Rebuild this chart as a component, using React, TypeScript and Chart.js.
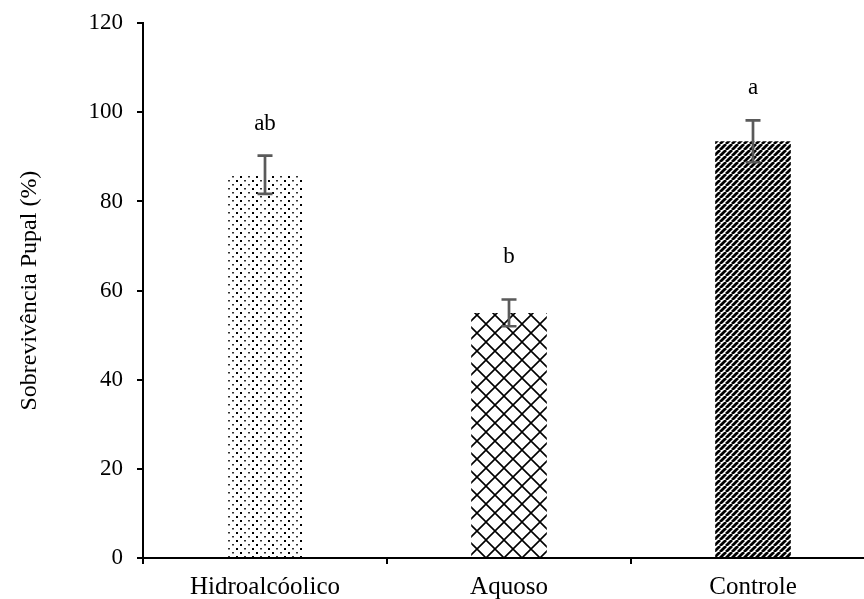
import React, { useEffect, useRef } from "react";
import { Chart, registerables } from "chart.js";

Chart.register(...registerables);

const categories = ["Hidroalcóolico", "Aquoso", "Controle"];
const survival = [86, 55, 93.5];
const errors = [4.3, 3, 4.7];
const letters = ["ab", "b", "a"];
const letterValues = [97.5, 67.5, 105.5];
const yTicks = [0, 20, 40, 60, 80, 100, 120];

const FONT = "'Liberation Serif', 'Times New Roman', serif";

function makeTile(size: number, draw: (c: CanvasRenderingContext2D) => void): CanvasPattern | string {
  const cv = document.createElement("canvas");
  cv.width = size;
  cv.height = size;
  const c = cv.getContext("2d");
  if (!c) return "#000";
  c.fillStyle = "#fff";
  c.fillRect(0, 0, size, size);
  draw(c);
  const p = c.createPattern(cv, "repeat");
  return p || "#000";
}

function dotted() {
  return makeTile(16, (c) => {
    for (let row = 0; row < 4; row++) {
      const y = row * 4;
      const off = row % 2 === 0 ? 0 : 4;
      for (let k = 0; k < 2; k++) {
        const x = off + k * 8;
        const big = (row + k) % 2 === 0;
        c.fillStyle = big ? "#000" : "#333";
        c.fillRect(x, y, 2, big ? 2 : 1.5);
      }
    }
  });
}

function diamonds() {
  return makeTile(18, (c) => {
    c.strokeStyle = "#000";
    c.lineWidth = 1.6;
    c.beginPath();
    for (let d = -18; d <= 18; d += 18) {
      c.moveTo(d, 0);
      c.lineTo(d + 18, 18);
      c.moveTo(d + 18, 0);
      c.lineTo(d, 18);
    }
    c.stroke();
  });
}

function stripes() {
  return makeTile(6, (c) => {
    c.strokeStyle = "#000";
    c.lineWidth = 2.8;
    c.beginPath();
    for (let d = -6; d <= 12; d += 6) {
      c.moveTo(d, 6);
      c.lineTo(d + 6, 0);
    }
    c.stroke();
  });
}

const annotate = {
  id: "annotate",
  afterDatasetsDraw(chart: any) {
    const ctx = chart.ctx;
    const x = chart.scales.x;
    const y = chart.scales.y;
    ctx.save();
    for (let i = 0; i < categories.length; i++) {
      const cx = x.getPixelForValue(i);
      const top = y.getPixelForValue(survival[i] + errors[i]);
      const bot = y.getPixelForValue(survival[i] - errors[i]);
      ctx.strokeStyle = "#5a5a5a";
      ctx.lineWidth = 2.7;
      ctx.beginPath();
      ctx.moveTo(cx, top);
      ctx.lineTo(cx, bot);
      ctx.moveTo(cx - 7.5, top);
      ctx.lineTo(cx + 7.5, top);
      ctx.moveTo(cx - 7.5, bot);
      ctx.lineTo(cx + 7.5, bot);
      ctx.stroke();
      ctx.fillStyle = "#000";
      ctx.font = `23px ${FONT}`;
      ctx.textAlign = "center";
      ctx.textBaseline = "middle";
      ctx.fillText(letters[i], cx, y.getPixelForValue(letterValues[i]));
    }
    ctx.restore();
  },
};

export default function App() {
  const ref = useRef<HTMLCanvasElement | null>(null);
  useEffect(() => {
    if (!ref.current) return;
    const chart = new Chart(ref.current, {
      type: "bar",
      data: {
        labels: categories,
        datasets: [
          {
            data: survival,
            backgroundColor: [dotted(), diamonds(), stripes()] as any,
            borderWidth: 0,
            barPercentage: 0.31,
            categoryPercentage: 1,
          },
        ],
      },
      options: {
        animation: false,
        responsive: false,
        layout: { padding: { top: 18, right: 5, left: 0, bottom: 0 } },
        plugins: { legend: { display: false }, tooltip: { enabled: false } },
        scales: {
          x: {
            offset: true,
            grid: {
              display: true,
              drawOnChartArea: false,
              offset: true,
              tickLength: 6,
              color: "#000",
              lineWidth: 2,
            },
            border: { display: true, color: "#000", width: 2 },
            ticks: { color: "#000", font: { family: FONT, size: 25 }, padding: 8 },
            afterFit: (s: any) => {
              s.height = 41;
            },
          },
          y: {
            min: 0,
            max: 120,
            afterBuildTicks: (s: any) => {
              s.ticks = yTicks.map((v) => ({ value: v }));
            },
            grid: {
              display: true,
              drawOnChartArea: false,
              tickLength: 6,
              color: "#000",
              lineWidth: 2,
            },
            border: { display: true, color: "#000", width: 2 },
            ticks: { color: "#000", font: { family: FONT, size: 23, lineHeight: 0.8 }, padding: 14 },
            title: {
              display: true,
              text: "Sobrevivência Pupal (%)",
              color: "#000",
              font: { family: FONT, size: 24 },
              padding: { top: 15, bottom: 10 },
            },
            afterFit: (s: any) => {
              s.width = 143;
            },
          },
        },
      },
      plugins: [annotate],
    });
    return () => chart.destroy();
  }, []);
  return (
    <div style={{ position: "fixed", left: 0, top: 0, width: 880, height: 599, background: "#fff" }}>
      <canvas ref={ref} width={880} height={599} style={{ display: "block" }} />
    </div>
  );
}
